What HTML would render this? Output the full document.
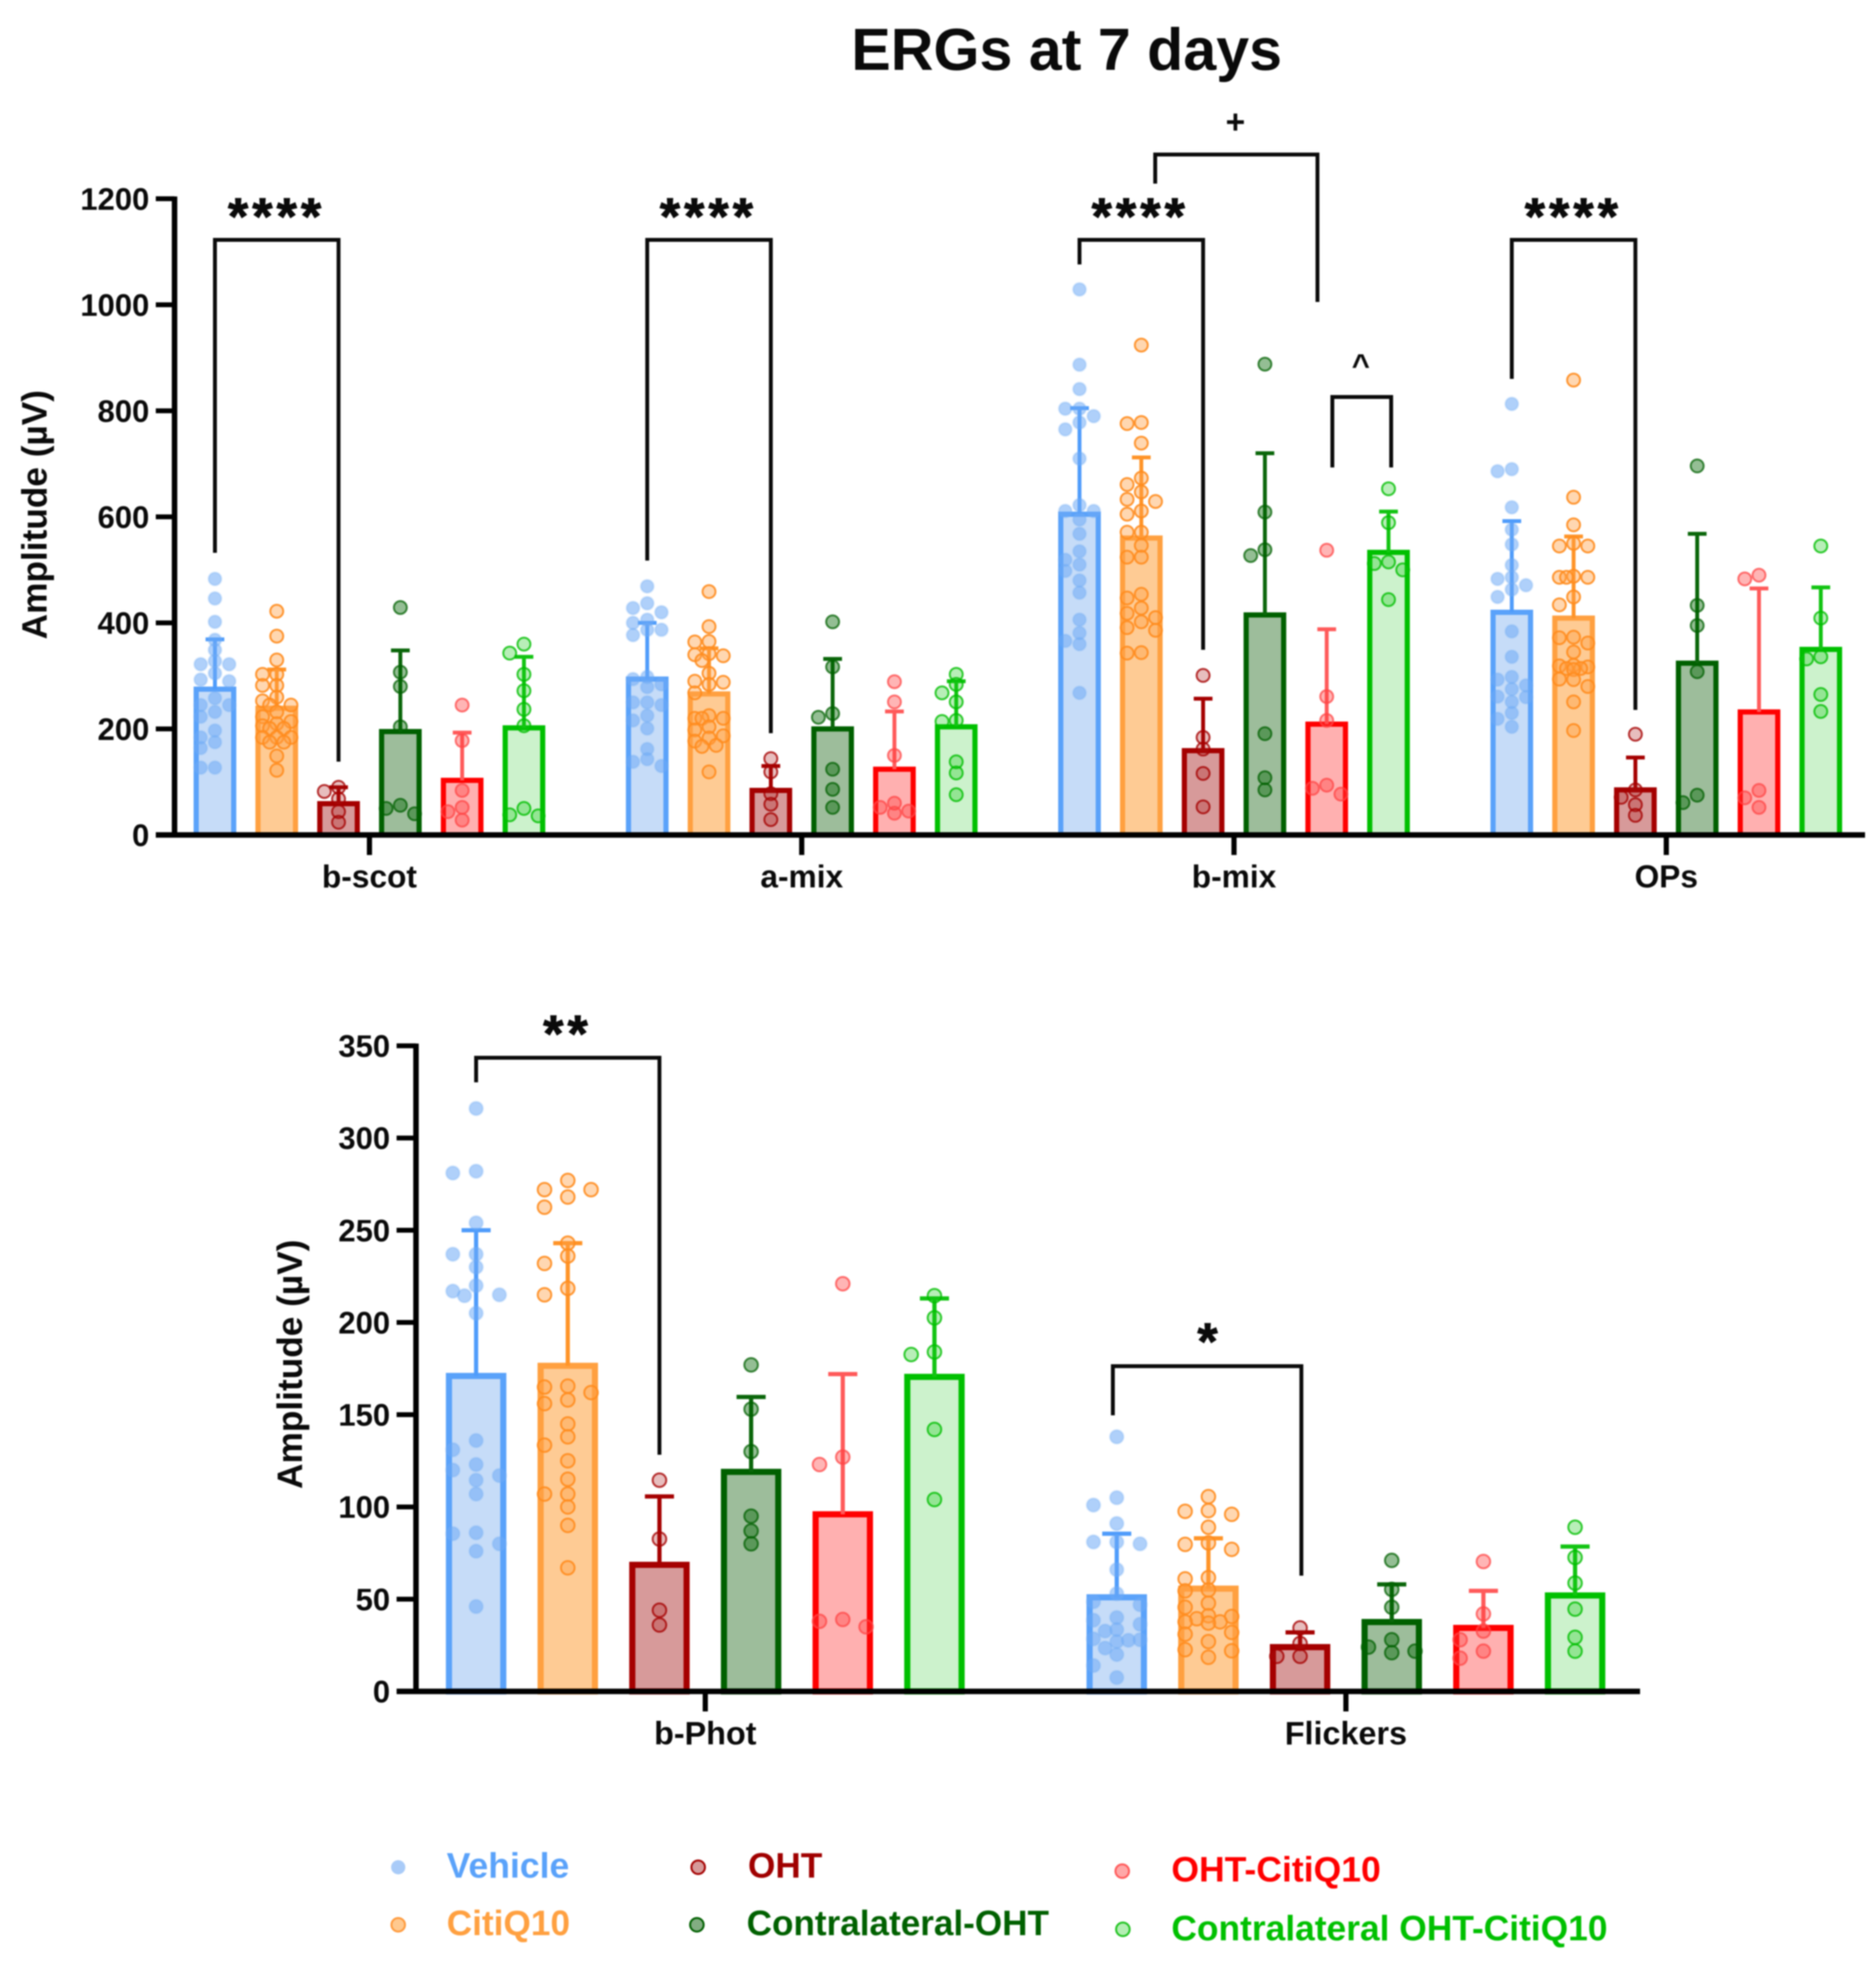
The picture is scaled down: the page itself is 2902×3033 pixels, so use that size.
<!DOCTYPE html>
<html lang="en">
<head>
<meta charset="utf-8">
<title>ERGs at 7 days</title>
<style>
html,body{margin:0;padding:0;background:#fff;}
#chart{display:block;width:2902px;height:3033px;filter:blur(1.1px);}
text{font-family:"Liberation Sans",sans-serif;font-weight:bold;fill:#0a0a0a;}
</style>
</head>
<body>
<svg id="chart" xmlns="http://www.w3.org/2000/svg" width="2902" height="3033" viewBox="0 0 2902 3033">
  <rect x="0" y="0" width="2902" height="3033" fill="#ffffff"/>
  <text x="1650" y="108" font-size="91.5" text-anchor="middle">ERGs at 7 days</text>
  <g id="top-chart"></g>
  <g id="bottom-chart"></g>
  <g>
    <circle cx="616" cy="2888" r="11" fill="#a9cbf8"/>
    <text x="691" y="2904" font-size="55" style="fill:#5aa2fa">Vehicle</text>
    <circle cx="616" cy="2977" r="10.5" fill="#ffc98f" stroke="#ff9a3c" stroke-width="3"/>
    <text x="691" y="2993" font-size="54.5" style="fill:#ffa040">CitiQ10</text>
    <circle cx="1080" cy="2888" r="10.5" fill="#d69a9a" stroke="#a50000" stroke-width="3"/>
    <text x="1157" y="2904" font-size="54.5" style="fill:#a00000">OHT</text>
    <circle cx="1078" cy="2977" r="10.5" fill="#82ad82" stroke="#006000" stroke-width="3"/>
    <text x="1155" y="2993" font-size="54.3" style="fill:#006000">Contralateral-OHT</text>
    <circle cx="1736" cy="2894" r="10.5" fill="#ffa8a8" stroke="#ff5a5a" stroke-width="3"/>
    <text x="1812" y="2910" font-size="55" style="fill:#ff0000">OHT-CitiQ10</text>
    <circle cx="1737" cy="2984" r="10.5" fill="#b4eeb4" stroke="#22c422" stroke-width="3"/>
    <text x="1812" y="3001" font-size="54.7" style="fill:#00c000">Contralateral OHT-CitiQ10</text>
  </g>
</svg>
<script>
// ---------- data ----------
const seriesKeys = ['vehicle', 'citiq10', 'oht', 'contralateral-oht', 'oht-citiq10', 'contralateral-oht-citiq10'];

const topCategories = ['b-scot', 'a-mix', 'b-mix', 'OPs'];
const topTicks = [0, 200, 400, 600, 800, 1000, 1200];
const topMeans = [
  [275, 239, 59, 195, 103, 202],
  [294, 266, 84, 200, 124, 204],
  [605, 560, 159, 415, 209, 533],
  [420, 409, 85, 324, 232, 350]
];
const topUpperErrors = [
  [369, 312, 90, 348, 193, 336],
  [400, 352, 130, 332, 233, 290],
  [805, 712, 257, 720, 388, 610],
  [592, 563, 146, 568, 465, 467]
];
const bScotPoints = [
  [483,446,402,368,349,328,322,322,305,293,290,258,245,245,232,223,197,184,175,164,127,127],
  [422,375,330,303,303,282,282,260,253,245,245,232,223,214,210,206,201,201,184,184,184,175,175,149,122],
  [90,82,68,44,24],
  [429,307,280,204,56,50,40],
  [245,178,84,52,44,28],
  [360,343,303,272,237,206,50,38,36]
];
const aMixPoints = [
  [469,437,428,420,406,400,387,387,377,298,294,284,279,250,250,245,225,216,201,162,143,138,130],
  [459,393,365,364,342,340,338,329,305,290,288,284,268,225,220,220,220,204,198,187,183,177,169,167,119],
  [144,119,78,58,29],
  [402,317,229,222,124,86,52],
  [289,251,150,60,52,45,41],
  [303,284,268,251,216,214,138,117,76]
];
const bMixPoints = [
  [1029,887,841,804,804,790,778,765,710,622,611,611,595,568,535,519,510,498,480,457,406,381,366,360,268],
  [924,778,776,739,673,661,647,633,629,611,605,571,571,546,524,524,454,447,428,418,410,402,391,386,344,343],
  [301,184,162,116,53],
  [888,609,538,527,191,108,85],
  [537,261,216,94,88,77],
  [653,589,515,512,500,444]
];
const opsPoints = [
  [813,690,686,618,576,548,509,486,483,471,463,449,384,336,298,293,282,275,261,260,251,230,219,204],
  [858,637,585,550,545,545,488,486,486,486,449,434,373,372,362,345,320,319,317,314,314,312,294,293,280,251,197],
  [190,85,71,57,37],
  [696,433,395,308,75,61],
  [490,483,84,70,52],
  [545,409,336,332,265,233]
];

const bottomCategories = ['b-Phot', 'Flickers'];
const bottomTicks = [0, 50, 100, 150, 200, 250, 300, 350];
const bottomMeans = [
  [171, 176.5, 68.6, 119, 96, 170.5],
  [51, 55.7, 24, 37.6, 34.4, 52]
];
const bottomUpperErrors = [
  [250, 243, 105.7, 159.6, 172, 213],
  [85.5, 83, 32, 58, 54.5, 78.5]
];
const bPhotPoints = [
  [316,282,281,254,237,237,230,220,217,215,214.5,205,136,131,123,120,117,114.5,107,86,85.5,80,76,46],
  [277,272,272,268,262.5,243,236,232,218.5,215,165.5,165,162,158,156,145,138,133.5,125,115,107,107,100,90,67],
  [114.5,82.6,44,36],
  [177,153,130,95,87,80],
  [221,127,123,39,38,35],
  [214.5,202.5,184,182.6,142,104]
];
const flickerPoints = [
  [138,105,101,91,81,81,80,66,53,48.6,47,40,38.6,36.4,33.5,32.7,28.5,28,27.7,27,23.5,20,14,7.5],
  [105.6,98,97.6,96,89,80.5,79.7,77,61.7,61,55,54.5,47.8,45.6,41,40.6,39.4,37.7,37.7,37,32,31,27,22.6,22,18.5],
  [34.4,26,19,19],
  [71,55.3,45.6,28,24,21.8,21],
  [70.4,42,32.7,28,21.8,18],
  [89,72.6,58.7,44.6,29.3,21.8]
];

// ---------- styling ----------
const barStroke = ['#5aa2fa', '#ffa040', '#a50000', '#006000', '#ff0000', '#00c000'];
const barFill = ['#c6dcf8', '#fecb94', '#d79a9a', '#9dbd9b', '#ffb0b0', '#ccf2cc'];
const errColor = ['#4f9cfb', '#ff9428', '#a50000', '#0a660a', '#ff5a5a', '#12c412'];
const dotFill = ['rgba(110,170,245,.55)', 'rgba(255,160,70,.42)', 'rgba(170,20,20,.28)', 'rgba(0,100,0,.42)', 'rgba(255,60,60,.38)', 'rgba(20,200,20,.3)'];
const dotStroke = ['rgba(110,170,245,.25)', 'rgba(255,140,30,.9)', 'rgba(165,0,0,.8)', 'rgba(0,96,0,.75)', 'rgba(255,70,70,.75)', 'rgba(0,190,0,.8)'];

const NS = 'http://www.w3.org/2000/svg';
function svgEl(tag, attrs, parent) {
  const e = document.createElementNS(NS, tag);
  for (const k in attrs) e.setAttribute(k, attrs[k]);
  parent.appendChild(e);
  return e;
}

// ---------- axis functions ----------
const topX = (g, s) => 571.5 + 668.7 * g + (s - 2.5) * 95.6;
const topY = v => 1291.4 - v * 0.82;
const botX = (g, s) => 1091 + 991 * g + (s - 2.5) * 141.8;
const botY = v => 2616 - v * 2.853;

// swarm: spread points sideways so they do not fully overlap
function swarm(values, yFn, step, minDist) {
  const placed = [];
  const slots = [0, -2, 2, -1, 1];
  values.forEach(v => {
    const py = yFn(v);
    let best = 0, bestD = -1;
    for (const sl of slots) {
      let d = Infinity;
      placed.forEach(p => { d = Math.min(d, Math.hypot(p.dx - sl * step, p.y - py)); });
      if (d >= minDist) { best = sl; bestD = d; break; }
      if (d > bestD) { bestD = d; best = sl; }
    }
    placed.push({ dx: best * step, y: py, v: v });
  });
  return placed;
}

function drawGroup(root, cfg, g, means, errs, points) {
  means.forEach((m, s) => {
    const x = cfg.x(g, s);
    const bar = svgEl('rect', { x: x - cfg.barW / 2, y: cfg.y(m), width: cfg.barW, height: cfg.y(0) - cfg.y(m), fill: barFill[s], stroke: barStroke[s], 'stroke-width': cfg.barSW }, root);
    
    

    const stem = svgEl('line', { x1: x, x2: x, y1: cfg.y(m), y2: cfg.y(errs[s]), stroke: errColor[s], 'stroke-width': cfg.errSW }, root);
    
    

    const cap = svgEl('line', { x1: x - cfg.capW / 2, x2: x + cfg.capW / 2, y1: cfg.y(errs[s]), y2: cfg.y(errs[s]), stroke: errColor[s], 'stroke-width': cfg.errSW }, root);
    
    
  });
  points.forEach((vals, s) => {
    swarm(vals, cfg.y, cfg.step, cfg.minDist).forEach(p => {
      const dot = svgEl('ellipse', { cx: cfg.x(g, s) + p.dx, cy: p.y, rx: cfg.r, ry: cfg.r, fill: dotFill[s], stroke: dotStroke[s], 'stroke-width': 3 }, root);
      
      
    });
  });
}

function drawAxes(root, cfg, ticks, titleX, titleY) {
  ticks.forEach(t => {
    const y = cfg.y(t);
    const tick = svgEl('line', { x1: cfg.axisX - cfg.tickLen, x2: cfg.axisX, y1: y, y2: y, stroke: '#000', 'stroke-width': 7.5 }, root);
    
    
    const lab = svgEl('text', { x: cfg.axisX - cfg.tickLen - 10, y: y + 17, 'font-size': 48, 'text-anchor': 'end' }, root);
    
    
    lab.textContent = t;
  });
  const ya = svgEl('line', { x1: cfg.axisX, x2: cfg.axisX, y1: cfg.y(ticks[ticks.length - 1]) - 3.5, y2: cfg.y(0) + 4, stroke: '#000', 'stroke-width': 8.5 }, root);
  
  
  const xa = svgEl('line', { x1: cfg.axisX - cfg.tickLen, x2: cfg.axisEnd, y1: cfg.y(0), y2: cfg.y(0), stroke: '#000', 'stroke-width': 8.5 }, root);
  
  
  cfg.cats.forEach((c, g) => {
    const cx = (cfg.x(g, 2) + cfg.x(g, 3)) / 2;
    const t = svgEl('line', { x1: cx, x2: cx, y1: cfg.y(0), y2: cfg.y(0) + 31, stroke: '#000', 'stroke-width': 8 }, root);
    
    
    const lab = svgEl('text', { x: cx, y: cfg.y(0) + cfg.catDy, 'font-size': cfg.catSize, 'text-anchor': 'middle' }, root);
    
    
    lab.textContent = c;
  });
  const yt = svgEl('text', { transform: 'translate(' + titleX + ',' + titleY + ') rotate(-90)', 'font-size': 54.5, 'text-anchor': 'middle' }, root);
  
  
  yt.textContent = 'Amplitude (\u00b5V)';
}

function bracket(root, name, x1, x2, yTop, yLeft, yRight) {
  const p = svgEl('polyline', { points: x1 + ',' + yLeft + ' ' + x1 + ',' + yTop + ' ' + x2 + ',' + yTop + ' ' + x2 + ',' + yRight, fill: 'none', stroke: '#0a0a0a', 'stroke-width': 6 }, root);
  
  
}
function mark(root, name, str, x, baseline, size, spacing) {
  const t = svgEl('text', { x: x, y: baseline, 'font-size': size, 'text-anchor': 'middle', 'letter-spacing': spacing, stroke: '#0a0a0a', 'stroke-width': size > 60 ? 1.5 : 0 }, root);
  
  
  t.textContent = str;
}

// ---------- top chart ----------
const topRoot = document.getElementById('top-chart');
const topCfg = { x: topX, y: topY, cats: topCategories, barW: 58, barSW: 8, errSW: 6, capW: 29, r: 10, step: 11, minDist: 15, axisX: 270, axisEnd: 2885, tickLen: 29, catDy: 81, catSize: 49 };
[bScotPoints, aMixPoints, bMixPoints, opsPoints].forEach((pts, g) => drawGroup(topRoot, topCfg, g, topMeans[g], topUpperErrors[g], pts));
drawAxes(topRoot, topCfg, topTicks, 72, 796);

bracket(topRoot, 'significance-bracket-b-scot', topX(0, 0), topX(0, 2), 371, 855, 1178);
bracket(topRoot, 'significance-bracket-a-mix', topX(1, 0), topX(1, 2), 371, 867, 1134);
bracket(topRoot, 'significance-bracket-b-mix', topX(2, 0), topX(2, 2), 371, 409, 1005);
bracket(topRoot, 'significance-bracket-ops', topX(3, 0), topX(3, 2), 371, 586, 1098);
bracket(topRoot, 'significance-bracket-plus', 1787, 2038, 239, 284, 467);
bracket(topRoot, 'significance-bracket-caret', 2061, 2152, 614, 723, 723);
mark(topRoot, 'significance-stars-b-scot', '****', 428, 362, 80, 6.5);
mark(topRoot, 'significance-stars-a-mix', '****', 1096, 362, 80, 6.5);
mark(topRoot, 'significance-stars-b-mix', '****', 1764, 362, 80, 6.5);
mark(topRoot, 'significance-stars-ops', '****', 2434, 362, 80, 6.5);
mark(topRoot, 'significance-plus', '+', 1911, 206, 52, 0);
mark(topRoot, 'significance-caret', '^', 2105, 581, 48, 0);

// ---------- bottom chart ----------
const botRoot = document.getElementById('bottom-chart');
const botCfg = { x: botX, y: botY, cats: bottomCategories, barW: 84, barSW: 9.5, errSW: 6.5, capW: 45, r: 10.5, step: 18, minDist: 18, axisX: 643.5, axisEnd: 2537, tickLen: 30, catDy: 82, catSize: 50 };
[bPhotPoints, flickerPoints].forEach((pts, g) => drawGroup(botRoot, botCfg, g, bottomMeans[g], bottomUpperErrors[g], pts));
drawAxes(botRoot, botCfg, bottomTicks, 467, 2110);

bracket(botRoot, 'significance-bracket-b-phot', botX(0, 0), botX(0, 2), 1636, 1674, 2250);
bracket(botRoot, 'significance-bracket-flickers', botX(1, 0) - 6, botX(1, 2) + 2, 2113, 2189, 2437);
mark(botRoot, 'significance-stars-b-phot', '**', 878, 1626, 80, 6.5);
mark(botRoot, 'significance-star-flickers', '*', 1868, 2102, 80, 0);
</script>
</body>
</html>
